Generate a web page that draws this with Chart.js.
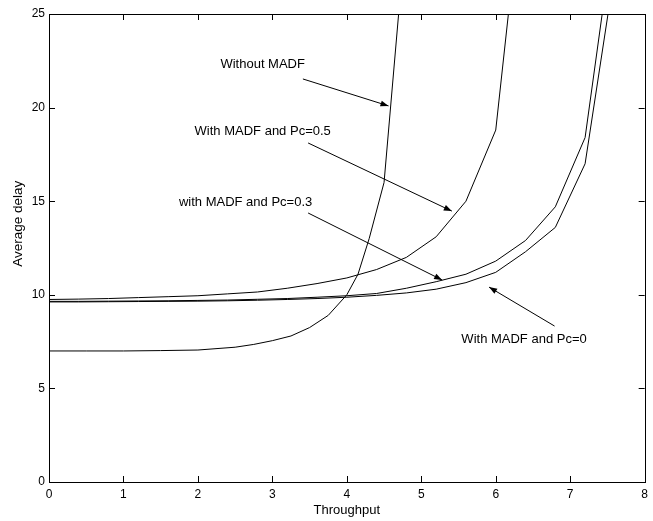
<!DOCTYPE html>
<html>
<head>
<meta charset="utf-8">
<script src="https://cdn.jsdelivr.net/npm/chart.js@4/dist/chart.umd.min.js"></script>
<style>
  html, body { margin: 0; padding: 0; background: #fff; }
  #wrap { width: 653px; height: 521px; }
</style>
</head>
<body>
<div id="wrap"><canvas id="delayChart"></canvas></div>
<script>
// Datos (Throughput vs Average delay)
const xSinMadf = [0, 0.5, 1, 1.5, 2, 2.5, 2.75, 3, 3.25, 3.5, 3.75, 4, 4.15, 4.3, 4.5, 4.8];
const ySinMadf = [7.0, 7.0, 7.0, 7.02, 7.05, 7.2, 7.35, 7.55, 7.8, 8.25, 8.9, 10.0, 11.1, 13.0, 16.0, 29.8];

const xPc05 = [0, 0.4, 0.8, 1.2, 1.6, 2.0, 2.4, 2.8, 3.2, 3.6, 4.0, 4.4, 4.8, 5.2, 5.6, 6.0, 6.4];
const yPc05 = [9.75, 9.77, 9.8, 9.85, 9.9, 9.95, 10.05, 10.15, 10.35, 10.6, 10.9, 11.35, 12.0, 13.1, 15.0, 18.8, 33.4];

const xPc = [0, 0.4, 0.8, 1.2, 1.6, 2.0, 2.4, 2.8, 3.2, 3.6, 4.0, 4.4, 4.8, 5.2, 5.6, 6.0, 6.4, 6.8, 7.2, 7.6];
const yPc03 = [9.65, 9.65, 9.66, 9.67, 9.68, 9.7, 9.72, 9.76, 9.8, 9.87, 9.95, 10.07, 10.35, 10.7, 11.1, 11.8, 12.9, 14.7, 18.4, 29.9];
const yPc0 = [9.62, 9.62, 9.63, 9.64, 9.65, 9.66, 9.68, 9.71, 9.75, 9.8, 9.87, 9.97, 10.1, 10.3, 10.65, 11.2, 12.3, 13.6, 17.0, 27.4];

const xTicks = [0, 1, 2, 3, 4, 5, 6, 7, 8];
const yTicks = [0, 5, 10, 15, 20, 25];

// Anotaciones (texto + flecha) en coordenadas de datos
const notas = [
  { text: 'Without MADF', tx: 2.87, ty: 22.28, from: [3.41, 21.53], to: [4.56, 20.09] },
  { text: 'With MADF and Pc=0.5', tx: 2.87, ty: 18.75, from: [3.48, 18.11], to: [5.41, 14.47] },
  { text: 'with MADF and Pc=0.3', tx: 2.64, ty: 14.96, from: [3.48, 14.37], to: [5.28, 10.79] },
  { text: 'With MADF and Pc=0', tx: 6.38, ty: 7.63, from: [6.79, 8.33], to: [5.91, 10.41] }
];
const tituloY = 'Average delay';
const tituloYCentro = 13.8; // centro vertical del titulo (valor del eje y)

const familia = '"Liberation Sans", Arial, Helvetica, sans-serif';
const fuenteTicks = { family: familia, size: 12 };
const fuenteTexto = { family: familia, size: 13 };

function puntos(xs, ys) {
  return xs.map((x, i) => ({ x: x, y: ys[i] }));
}

function serie(label, xs, ys) {
  return {
    label: label,
    data: puntos(xs, ys),
    borderColor: '#000',
    borderWidth: 1,
    pointRadius: 0,
    fill: false,
    tension: 0
  };
}

// Marco, ticks hacia adentro, titulo y anotaciones
const marcoPlugin = {
  id: 'marco',
  afterDatasetsDraw(chart) {
    const ctx = chart.ctx;
    const a = chart.chartArea;
    const sx = chart.scales.x, sy = chart.scales.y;
    const tl = 6;
    ctx.save();
    ctx.strokeStyle = '#000';
    ctx.lineWidth = 1;
    ctx.strokeRect(Math.round(a.left) + 0.5, Math.round(a.top) + 0.5,
      Math.round(a.right - a.left), Math.round(a.bottom - a.top));
    ctx.beginPath();
    xTicks.forEach(v => {
      const px = Math.round(sx.getPixelForValue(v)) + 0.5;
      ctx.moveTo(px, a.bottom); ctx.lineTo(px, a.bottom - tl);
      ctx.moveTo(px, a.top); ctx.lineTo(px, a.top + tl);
    });
    yTicks.forEach(v => {
      const py = Math.round(sy.getPixelForValue(v)) + 0.5;
      ctx.moveTo(a.left, py); ctx.lineTo(a.left + tl, py);
      ctx.moveTo(a.right, py); ctx.lineTo(a.right - tl, py);
    });
    ctx.stroke();

    ctx.fillStyle = '#000';
    ctx.textAlign = 'center';
    ctx.textBaseline = 'middle';

    // titulo del eje y
    ctx.save();
    ctx.font = '13.5px ' + familia;
    ctx.translate(18, sy.getPixelForValue(tituloYCentro));
    ctx.rotate(-Math.PI / 2);
    ctx.fillText(tituloY, 0, 0);
    ctx.restore();

    ctx.font = fuenteTexto.size + 'px ' + familia;
    notas.forEach(n => {
      ctx.fillText(n.text, sx.getPixelForValue(n.tx), sy.getPixelForValue(n.ty));
      const x1 = sx.getPixelForValue(n.from[0]), y1 = sy.getPixelForValue(n.from[1]);
      const x2 = sx.getPixelForValue(n.to[0]), y2 = sy.getPixelForValue(n.to[1]);
      ctx.beginPath();
      ctx.moveTo(x1, y1); ctx.lineTo(x2, y2);
      ctx.stroke();
      const ang = Math.atan2(y2 - y1, x2 - x1);
      const L = 8, W = 3;
      ctx.beginPath();
      ctx.moveTo(x2, y2);
      ctx.lineTo(x2 - L * Math.cos(ang) + W * Math.sin(ang), y2 - L * Math.sin(ang) - W * Math.cos(ang));
      ctx.lineTo(x2 - L * Math.cos(ang) - W * Math.sin(ang), y2 - L * Math.sin(ang) + W * Math.cos(ang));
      ctx.closePath();
      ctx.fill();
    });
    ctx.restore();
  }
};

const ctx = document.getElementById('delayChart');
const myChart = new Chart(ctx, {
  type: 'line',
  data: {
    datasets: [
      serie('Without MADF', xSinMadf, ySinMadf),
      serie('With MADF and Pc=0.5', xPc05, yPc05),
      serie('with MADF and Pc=0.3', xPc, yPc03),
      serie('With MADF and Pc=0', xPc, yPc0)
    ]
  },
  options: {
    responsive: true,
    maintainAspectRatio: false,
    animation: false,
    layout: { padding: { top: 14, right: 8, left: 0, bottom: 0 } },
    plugins: { legend: { display: false }, tooltip: { enabled: false } },
    scales: {
      x: {
        type: 'linear',
        min: 0, max: 8,
        afterBuildTicks: s => { s.ticks = xTicks.map(v => ({ value: v })); },
        afterFit: s => { s.height = 39; },
        grid: { display: false, drawTicks: false },
        border: { display: false },
        ticks: { color: '#000', font: fuenteTicks, padding: 5, maxRotation: 0 },
        title: { display: true, text: 'Throughput', color: '#000', font: fuenteTexto, padding: { top: 0, bottom: 3 } }
      },
      y: {
        type: 'linear',
        min: 0, max: 25,
        afterBuildTicks: s => { s.ticks = yTicks.map(v => ({ value: v })); },
        afterFit: s => { s.width = 49; },
        grid: { display: false, drawTicks: false },
        border: { display: false },
        ticks: { color: '#000', font: fuenteTicks, padding: 4 },
        title: { display: false }
      }
    }
  },
  plugins: [marcoPlugin]
});
</script>
</body>
</html>
